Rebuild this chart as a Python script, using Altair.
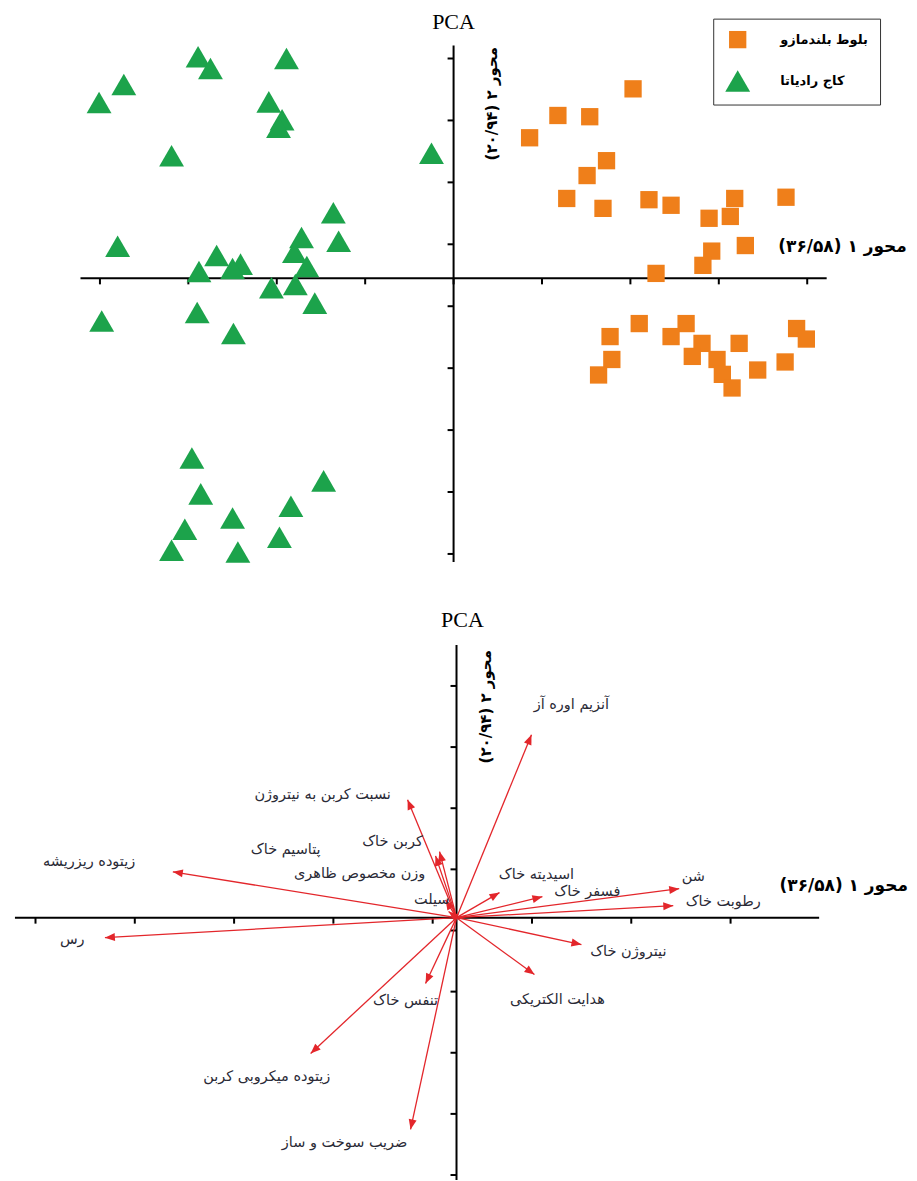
import math
import altair as alt
import pandas as pd

# ---------------- data: score plot (top) ----------------
OAK = "بلوط بلندمازو"
PINE = "کاج رادیاتا"
oak_x = [2.03, 1.18, 1.54, 0.86, 1.73, 1.51, 1.28, 1.69, 2.21, 2.46, 3.18, 3.76, 2.89, 3.13, 3.30, 2.92, 2.82,
         2.29, 2.10, 2.63, 1.77, 2.46, 2.81, 3.23, 3.88, 3.99, 1.79, 2.70, 2.98, 3.75, 3.44, 3.04, 1.64, 3.15]
oak_y = [3.06, 2.63, 2.61, 2.27, 1.90, 1.66, 1.29, 1.13, 1.27, 1.18, 1.29, 1.31, 0.97, 1.00, 0.53, 0.44, 0.21,
         0.08, -0.73, -0.73, -0.94, -0.94, -1.05, -1.05, -0.81, -0.98, -1.31, -1.26, -1.31, -1.35, -1.48, -1.55,
         -1.56, -1.77]
pine_x = [-2.89, -1.89, -2.75, -3.73, -4.01, -2.09, -1.94, -1.98, -3.19, -0.25, -1.36, -1.30, -3.80, -1.72,
          -2.68, -1.80, -2.41, -1.66, -2.50, -2.88, -2.06, -1.79, -1.57, -3.98, -2.90, -2.49, -2.96, -1.47,
          -2.86, -1.84, -2.50, -3.04, -1.97, -3.19, -2.44]
pine_y = [3.58, 3.55, 3.39, 3.13, 2.84, 2.85, 2.56, 2.44, 1.98, 2.02, 1.06, 0.60, 0.52, 0.66, 0.37, 0.42, 0.23,
          0.19, 0.16, 0.11, -0.15, -0.10, -0.40, -0.69, -0.55, -0.89, -2.90, -3.27, -3.48, -3.68, -3.87, -4.05,
          -4.18, -4.39, -4.42]

top_xticks = [-4, -3, -2, -1, 0, 1, 2, 3, 4]
top_yticks = [3.55, 2.55, 1.55, 0.55, -0.45, -1.45, -2.45, -3.45, -4.45]

# ---------------- data: loading plot (bottom) ----------------
var_names = ["آنزیم اوره آز", "نسبت کربن به نیتروژن", "کربن خاک", "پتاسیم خاک", "وزن مخصوص ظاهری", "سیلت",
             "زیتوده ریزریشه", "رس", "اسیدیته خاک", "فسفر خاک", "شن", "رطوبت خاک", "نیتروژن خاک",
             "هدایت الکتریکی", "تنفس خاک", "زیتوده میکروبی کربن", "ضریب سوخت و ساز"]
load_x = [0.755, -0.493, -0.171, -0.211, -0.11, -0.08, -2.857, -3.541, 0.433, 0.865, 2.243, 2.183, 1.258,
          0.785, -0.312, -1.469, -0.463]
load_y = [2.99, 1.93, 1.08, 1.01, 0.29, 0.10, 0.75, -0.327, 0.41, 0.343, 0.474, 0.196, -0.441, -0.931,
          -1.078, -2.222, -3.464]
label_x = [1.157, -1.348, -0.644, -1.72, -0.976, -0.25, -3.70, -3.87, 0.805, 1.318, 2.384, 2.686, 1.73,
           1.016, -0.513, -1.911, -1.127]
label_y = [3.48, 2.01, 1.24, 1.11, 0.72, 0.29, 0.915, -0.36, 0.70, 0.425, 0.67, 0.26, -0.556, -1.34,
           -1.37, -2.61, -3.68]

bot_xticks = [-4.24, -3.24, -2.24, -1.24, -0.24, 0.76, 1.76, 2.76]
bot_yticks = [3.79, 2.79, 1.79, 0.79, -0.21, -1.21, -2.21, -3.21, -4.21]

AX1 = "\u200fمحور ۱ (۳۶/۵۸)\u200f"
AX2 = "\u200fمحور ۲ (۲۰/۹۴)\u200f"

# ---------------- layout settings ----------------
TOP_W, TOP_H = 901, 580
BOT_W, BOT_H = 901, 593
top_xdom, top_ydom = [-5.04, 5.14], [-5.0, 4.355]
bot_xdom, bot_ydom = [-4.517, 4.547], [-4.297, 5.392]
top_xext, top_yext = [-4.22, 4.22], [-4.58, 3.76]
bot_xext, bot_yext = [-4.447, 3.652], [-4.29, 4.46]
TICK_PX = 6
RED = "#e3262b"
FA_FONT = "DejaVu Sans"


def enc(xdom, ydom):
    def X(f):
        return alt.X(f, type="quantitative", scale=alt.Scale(domain=xdom, nice=False, zero=False), axis=None)

    def Y(f):
        return alt.Y(f, type="quantitative", scale=alt.Scale(domain=ydom, nice=False, zero=False), axis=None)
    return X, Y


def axis_layers(X, Y, xext, yext, xticks, yticks, ux, uy):
    hline = alt.Chart(pd.DataFrame({"x": [xext[0]], "x2": [xext[1]], "y": [0]})).mark_rule(
        color="black", strokeWidth=2).encode(x=X("x"), x2="x2", y=Y("y"))
    vline = alt.Chart(pd.DataFrame({"y": [yext[0]], "y2": [yext[1]], "x": [0]})).mark_rule(
        color="black", strokeWidth=2).encode(y=Y("y"), y2="y2", x=X("x"))
    xt = alt.Chart(pd.DataFrame({"x": xticks, "y": 0.0, "y2": -TICK_PX / uy})).mark_rule(
        color="black", strokeWidth=2).encode(x=X("x"), y=Y("y"), y2="y2")
    yt = alt.Chart(pd.DataFrame({"y": yticks, "x": 0.0, "x2": -TICK_PX / ux})).mark_rule(
        color="black", strokeWidth=2).encode(y=Y("y"), x=X("x"), x2="x2")
    return [hline, vline, xt, yt]


# ---------------- top chart ----------------
Xt, Yt = enc(top_xdom, top_ydom)
tux = TOP_W / (top_xdom[1] - top_xdom[0])
tuy = TOP_H / (top_ydom[1] - top_ydom[0])

scores = pd.DataFrame({
    "x": oak_x + pine_x,
    "y": oak_y + pine_y,
    "group": [OAK] * len(oak_x) + [PINE] * len(pine_x),
})
leg = alt.Legend(title=None, orient="none", legendX=706, legendY=10, strokeColor="#333333",
                 fillColor="white", padding=12, symbolSize=400, labelFont=FA_FONT, labelFontSize=13,
                 labelFontWeight="bold", labelColor="black", labelOffset=30, rowPadding=20,
                 symbolStrokeWidth=0)
points = alt.Chart(scores).mark_point(filled=True, opacity=1, strokeWidth=0).encode(
    x=Xt("x"), y=Yt("y"),
    color=alt.Color("group:N", scale=alt.Scale(domain=[OAK, PINE], range=["#ef7f1a", "#1ca34b"]), legend=leg),
    shape=alt.Shape("group:N", scale=alt.Scale(domain=[OAK, PINE], range=["square", "triangle-up"]), legend=leg),
    size=alt.Size("group:O", scale=alt.Scale(domain=[OAK, PINE], range=[300, 620]), legend=None),
)

top_lab_h = alt.Chart(pd.DataFrame({"x": [4.40], "y": [0.50], "t": [AX1]})).mark_text(
    font=FA_FONT, fontSize=17, fontWeight="bold", color="black", align="center", baseline="middle"
).encode(x=Xt("x"), y=Yt("y"), text="t:N")
top_lab_v = alt.Chart(pd.DataFrame({"x": [0.44], "y": [2.82], "t": [AX2]})).mark_text(
    font=FA_FONT, fontSize=15, fontWeight="bold", color="black", align="center", baseline="middle", angle=270
).encode(x=Xt("x"), y=Yt("y"), text="t:N")
top_title = alt.Chart(pd.DataFrame({"t": ["PCA"]})).mark_text(
    font="Liberation Serif", fontSize=22, color="black", align="center", baseline="middle"
).encode(x=alt.value(446), y=alt.value(13), text="t:N")

top = alt.layer(*axis_layers(Xt, Yt, top_xext, top_yext, top_xticks, top_yticks, tux, tuy),
                points, top_lab_h, top_lab_v, top_title).properties(width=TOP_W, height=TOP_H)

# ---------------- bottom chart ----------------
Xb, Yb = enc(bot_xdom, bot_ydom)
bux = BOT_W / (bot_xdom[1] - bot_xdom[0])
buy = BOT_H / (bot_ydom[1] - bot_ydom[0])

HEAD_SIZE = 100
head_r = math.sqrt(HEAD_SIZE) / 2
rows = []
for n, x, y, lx, ly in zip(var_names, load_x, load_y, label_x, label_y):
    dxp, dyp = x * bux, y * buy
    L = math.hypot(dxp, dyp)
    f = max(0.0, 1 - head_r / L)
    rows.append({"name": n, "x0": 0.0, "y0": 0.0, "x": x, "y": y, "hx": x * f, "hy": y * f,
                 "ang": math.degrees(math.atan2(dxp, dyp)) % 360, "lx": lx, "ly": ly})
loads = pd.DataFrame(rows)

arrows = alt.Chart(loads).mark_rule(color=RED, strokeWidth=1.3).encode(
    x=Xb("x0"), y=Yb("y0"), x2="x", y2="y")
heads = alt.Chart(loads).mark_point(filled=True, shape="M0,-1L-0.8,1L0.8,1Z", size=HEAD_SIZE,
                                    color=RED, opacity=1, strokeWidth=0).encode(
    x=Xb("hx"), y=Yb("hy"), angle=alt.Angle("ang:Q", scale=None))
labels = alt.Chart(loads).mark_text(font=FA_FONT, fontSize=14.5, color="#2a2a36",
                                    align="center", baseline="middle").encode(
    x=Xb("lx"), y=Yb("ly"), text="name:N")

bot_lab_h = alt.Chart(pd.DataFrame({"x": [3.90], "y": [0.52], "t": [AX1]})).mark_text(
    font=FA_FONT, fontSize=17, fontWeight="bold", color="black", align="center", baseline="middle"
).encode(x=Xb("x"), y=Yb("y"), text="t:N")
bot_lab_v = alt.Chart(pd.DataFrame({"x": [0.30], "y": [3.45], "t": [AX2]})).mark_text(
    font=FA_FONT, fontSize=15, fontWeight="bold", color="black", align="center", baseline="middle", angle=270
).encode(x=Xb("x"), y=Yb("y"), text="t:N")
bot_title = alt.Chart(pd.DataFrame({"t": ["PCA"]})).mark_text(
    font="Liberation Serif", fontSize=22, color="black", align="center", baseline="middle"
).encode(x=alt.value(455), y=alt.value(32), text="t:N")

bottom = alt.layer(*axis_layers(Xb, Yb, bot_xext, bot_yext, bot_xticks, bot_yticks, bux, buy),
                   arrows, heads, labels, bot_lab_h, bot_lab_v, bot_title).properties(width=BOT_W, height=BOT_H)

chart = alt.vconcat(top, bottom, spacing=0).properties(padding=0).configure_view(stroke=None)
chart.save("out.html", embed_options={"renderer": "svg", "actions": False})
